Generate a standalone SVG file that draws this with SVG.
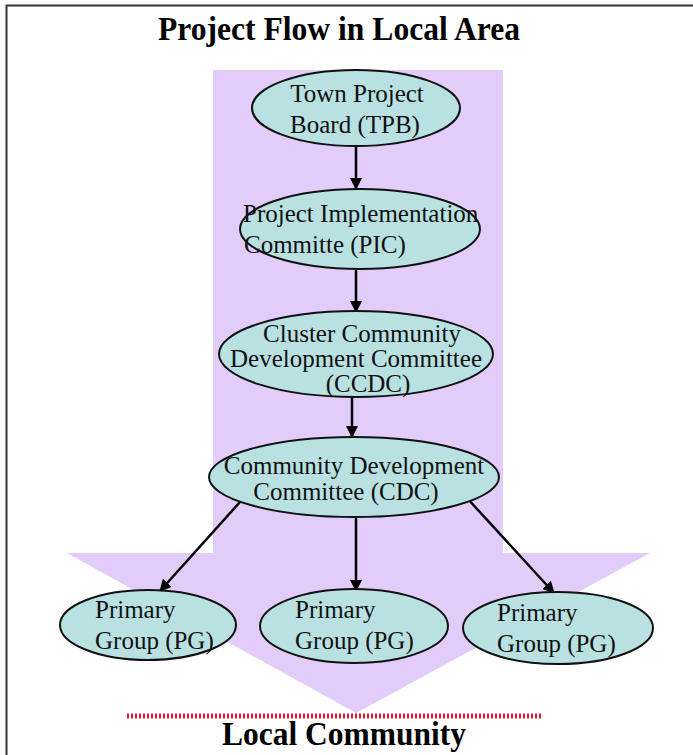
<svg xmlns="http://www.w3.org/2000/svg" width="693" height="755" viewBox="0 0 693 755">
  <style>
    .node ellipse { fill: #b9e1e2; stroke: #111; stroke-width: 2; }
    .node text { font-family: "Liberation Serif", "Times New Roman", serif; font-size: 25px; fill: #111; }
    .heading { font-family: "Liberation Serif", "Times New Roman", serif; font-weight: bold; fill: #000; }
    .edge { stroke: #000; stroke-width: 2.5; fill: none; marker-end: url(#head); }
  </style>
  <defs>
    <marker id="head" viewBox="0 0 12 12" refX="11" refY="6" markerWidth="12" markerHeight="12" markerUnits="userSpaceOnUse" orient="auto">
      <path d="M0,0 L12,6 L0,12 Z" fill="#000"/>
    </marker>
  </defs>

  <rect width="693" height="755" fill="#fff"/>
  <!-- frame: top and left rules -->
  <path d="M6.5,755 V5.5 H693" fill="none" stroke="#333" stroke-width="2"/>

  <text class="heading" x="339" y="40" font-size="34" text-anchor="middle" textLength="362" lengthAdjust="spacingAndGlyphs">Project Flow in Local Area</text>

  <!-- big downward flow arrow -->
  <polygon id="flow-arrow" points="213,70 503,70 503,553 650,553 356,713 67,553 213,553" fill="#e1ccfa"/>

  <!-- dotted boundary -->
  <line x1="127" y1="716" x2="543" y2="716" stroke="#e5142f" stroke-width="5" stroke-dasharray="2,2"/>
  <text class="heading" x="344" y="745" font-size="33" text-anchor="middle" textLength="244" lengthAdjust="spacingAndGlyphs">Local Community</text>

  <g id="connectors">
    <line class="edge" x1="356" y1="146" x2="356" y2="189"/>
    <line class="edge" x1="356" y1="268" x2="356" y2="312"/>
    <line class="edge" x1="352" y1="396" x2="352" y2="437"/>
    <line class="edge" x1="240" y1="502" x2="160" y2="591"/>
    <line class="edge" x1="356" y1="517" x2="356" y2="591"/>
    <line class="edge" x1="467" y1="498" x2="554" y2="593"/>
  </g>

  <g id="tpb" class="node">
    <ellipse cx="356" cy="108" rx="104" ry="38"/>
    <text x="357" y="102" text-anchor="middle">Town Project</text>
    <text x="355" y="133" text-anchor="middle">Board (TPB)</text>
  </g>

  <g id="pic" class="node">
    <ellipse cx="360" cy="229" rx="120" ry="40"/>
    <text x="243" y="222">Project Implementation</text>
    <text x="244" y="253">Committe (PIC)</text>
  </g>

  <g id="ccdc" class="node">
    <ellipse cx="356" cy="354" rx="137" ry="43"/>
    <text x="362" y="342" text-anchor="middle">Cluster Community</text>
    <text x="356" y="367" text-anchor="middle">Development Committee</text>
    <text x="368" y="392" text-anchor="middle">(CCDC)</text>
  </g>

  <g id="cdc" class="node">
    <ellipse cx="354" cy="477" rx="145" ry="40"/>
    <text x="354" y="474" text-anchor="middle">Community Development</text>
    <text x="346" y="500" text-anchor="middle">Committee (CDC)</text>
  </g>

  <g id="pg-left" class="node">
    <ellipse cx="148" cy="625" rx="88" ry="35"/>
    <text x="95" y="618">Primary</text>
    <text x="95" y="649">Group (PG)</text>
  </g>

  <g id="pg-middle" class="node">
    <ellipse cx="354" cy="626" rx="94" ry="37"/>
    <text x="295" y="618">Primary</text>
    <text x="295" y="649">Group (PG)</text>
  </g>

  <g id="pg-right" class="node">
    <ellipse cx="558" cy="628" rx="95" ry="36"/>
    <text x="497" y="621">Primary</text>
    <text x="497" y="652">Group (PG)</text>
  </g>
</svg>
